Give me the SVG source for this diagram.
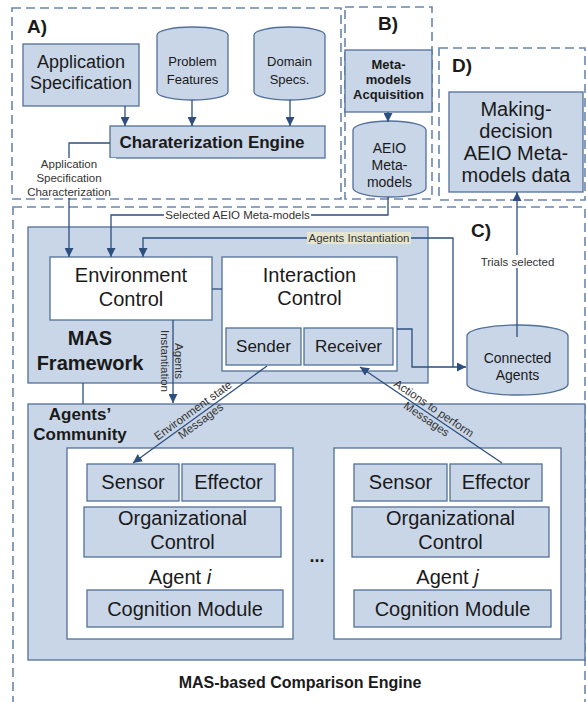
<svg xmlns="http://www.w3.org/2000/svg" width="586" height="702" viewBox="0 0 586 702">
<style>
.region{fill:none;stroke:#6a86ad;stroke-width:1.6;stroke-dasharray:9,5}
.box{fill:#c9d6e8;stroke:#52709a;stroke-width:1.3}
.wbox{fill:#ffffff;stroke:#52709a;stroke-width:1.3}
.t{font-family:"Liberation Sans",Arial,sans-serif;fill:#1a1a1a;text-anchor:middle}
.b{font-weight:bold}
.lbl{font-family:"Liberation Sans",Arial,sans-serif;fill:#333333;font-size:11.5px;text-anchor:middle}
.ln{fill:none;stroke:#2d4f7f;stroke-width:1.3}
.ar{marker-end:url(#arr)}
</style>
<defs>
<marker id="arr" viewBox="0 0 10 10" refX="10" refY="5" markerWidth="9" markerHeight="9" markerUnits="userSpaceOnUse" orient="auto">
<path d="M0,0 L10,5 L0,10 z" fill="#2d4f7f"/>
</marker>
</defs>
<rect width="586" height="702" fill="#ffffff"/>

<g id="regions">
<rect class="region" x="12" y="8" width="329" height="191"/>
<rect class="region" x="345" y="7" width="87" height="192"/>
<rect class="region" x="439" y="48" width="146" height="152"/>
<rect class="region" x="13" y="207" width="572" height="510"/>
<text class="t b" x="37" y="33" font-size="19">A)</text>
<text class="t b" x="388" y="30" font-size="19">B)</text>
<text class="t b" x="462" y="72" font-size="19">D)</text>
<text class="t b" x="481" y="237" font-size="19">C)</text>
</g>

<g id="app-spec">
<rect class="box" x="23" y="44" width="116" height="62"/>
<text class="t" x="81" y="68" font-size="18">Application</text>
<text class="t" x="81" y="89" font-size="18">Specification</text>
</g>

<g id="problem-features">
<path class="box" d="M157,35 A35.5,8 0 0 1 228,35 V92 A35.5,8 0 0 1 157,92 Z"/>
<text class="t" x="192.5" y="66" font-size="13">Problem</text>
<text class="t" x="192.5" y="84" font-size="13">Features</text>
</g>

<g id="domain-specs">
<path class="box" d="M254,35 A35.5,8 0 0 1 325,35 V92 A35.5,8 0 0 1 254,92 Z"/>
<text class="t" x="289.5" y="66" font-size="13">Domain</text>
<text class="t" x="289.5" y="84" font-size="13">Specs.</text>
</g>

<g id="char-engine">
<rect class="box" x="110" y="126" width="215" height="32"/>
<text class="t b" x="212" y="148" font-size="17">Charaterization Engine</text>
</g>

<g id="meta-acq">
<rect class="box" x="345" y="50" width="87" height="62"/>
<text class="t b" x="388.5" y="69" font-size="13">Meta-</text>
<text class="t b" x="388.5" y="84" font-size="13">models</text>
<text class="t b" x="388.5" y="99" font-size="13">Acquisition</text>
</g>

<g id="aeio-metamodels">
<path class="box" d="M353,130 A36.5,9 0 0 1 426,130 V188 A36.5,9 0 0 1 353,188 Z"/>
<text class="t" x="389.5" y="153" font-size="14">AEIO</text>
<text class="t" x="389.5" y="170" font-size="14">Meta-</text>
<text class="t" x="389.5" y="187" font-size="14">models</text>
</g>

<g id="making-decision">
<rect class="box" x="449" y="92" width="134" height="100"/>
<text class="t" x="516" y="116" font-size="20">Making-</text>
<text class="t" x="516" y="138" font-size="20">decision</text>
<text class="t" x="516" y="160" font-size="20">AEIO Meta-</text>
<text class="t" x="516" y="182" font-size="20">models data</text>
</g>

<g id="mas-framework">
<rect class="box" x="28" y="227" width="400" height="156"/>
<text class="t b" x="90" y="345" font-size="20">MAS</text>
<text class="t b" x="90" y="370" font-size="20">Framework</text>
</g>

<g id="environment-control">
<rect class="wbox" x="50" y="257" width="162" height="63"/>
<text class="t" x="131" y="282" font-size="20">Environment</text>
<text class="t" x="131" y="306" font-size="20">Control</text>
</g>

<g id="interaction-control">
<rect class="wbox" x="222" y="257" width="175" height="114"/>
<text class="t" x="309.5" y="282" font-size="20">Interaction</text>
<text class="t" x="309.5" y="305" font-size="20">Control</text>
</g>

<g id="sender">
<rect class="box" x="226" y="328" width="75" height="37"/>
<text class="t" x="263.5" y="352" font-size="17">Sender</text>
</g>

<g id="receiver">
<rect class="box" x="304" y="328" width="89" height="37"/>
<text class="t" x="348.5" y="352" font-size="17">Receiver</text>
</g>

<g id="connected-agents">
<path class="box" d="M467,336 A50.5,11 0 0 1 568,336 V384 A50.5,11 0 0 1 467,384 Z"/>
<text class="t" x="517.5" y="363" font-size="14">Connected</text>
<text class="t" x="517.5" y="380" font-size="14">Agents</text>
</g>

<g id="agents-community">
<rect class="box" x="28" y="404" width="557" height="256"/>
<text class="t b" x="80" y="420" font-size="17">Agents’</text>
<text class="t b" x="80" y="440" font-size="17">Community</text>
<text class="t b" x="317" y="562" font-size="18">...</text>
</g>

<g id="agent-i">
<rect class="wbox" x="67" y="448" width="226" height="191"/>
<text class="t" x="180" y="584" font-size="20">Agent <tspan font-style="italic">i</tspan></text>
</g>
<g id="sensor-i">
<rect class="box" x="87" y="464" width="92" height="37"/>
<text class="t" x="133" y="489" font-size="20">Sensor</text>
</g>
<g id="effector-i">
<rect class="box" x="182" y="464" width="93" height="37"/>
<text class="t" x="228.5" y="489" font-size="20">Effector</text>
</g>
<g id="org-control-i">
<rect class="box" x="84" y="507" width="197" height="50"/>
<text class="t" x="182.5" y="525" font-size="20">Organizational</text>
<text class="t" x="182.5" y="549" font-size="20">Control</text>
</g>
<g id="cognition-i">
<rect class="box" x="87" y="590" width="196" height="37"/>
<text class="t" x="185" y="616" font-size="20">Cognition Module</text>
</g>

<g id="agent-j">
<rect class="wbox" x="334" y="448" width="227" height="191"/>
<text class="t" x="447.5" y="584" font-size="20">Agent <tspan font-style="italic">j</tspan></text>
</g>
<g id="sensor-j">
<rect class="box" x="354" y="464" width="93" height="37"/>
<text class="t" x="400.5" y="489" font-size="20">Sensor</text>
</g>
<g id="effector-j">
<rect class="box" x="450" y="464" width="92" height="37"/>
<text class="t" x="496" y="489" font-size="20">Effector</text>
</g>
<g id="org-control-j">
<rect class="box" x="352" y="507" width="197" height="50"/>
<text class="t" x="450.5" y="525" font-size="20">Organizational</text>
<text class="t" x="450.5" y="549" font-size="20">Control</text>
</g>
<g id="cognition-j">
<rect class="box" x="354" y="590" width="197" height="37"/>
<text class="t" x="452.5" y="616" font-size="20">Cognition Module</text>
</g>

<g id="caption">
<text class="t b" x="300" y="688" font-size="16">MAS-based Comparison Engine</text>
</g>

<g id="connectors">
<path class="ln ar" d="M125,106 V126"/>
<path class="ln ar" d="M192,100 V126"/>
<path class="ln ar" d="M290,100 V126"/>
<path class="ln ar" d="M388,112 V122"/>
<path class="ln ar" d="M110,143 H69 V257"/>
<rect x="22" y="158" width="94" height="40" fill="#ffffff"/>
<text class="lbl" x="69" y="168">Application</text>
<text class="lbl" x="69" y="182">Specification</text>
<text class="lbl" x="69" y="196">Characterization</text>
<path class="ln ar" d="M388,197 V215 H111 V257"/>
<rect x="164" y="208" width="147" height="13" fill="#ffffff"/>
<text class="lbl" x="237.5" y="219">Selected AEIO Meta-models</text>
<path class="ln ar" d="M453,367 V238 H143 V257"/>
<rect x="307" y="232" width="104" height="12" fill="#e6e6cf"/>
<text class="lbl" x="359" y="242">Agents Instantiation</text>
<path class="ln ar" d="M397,329 H412 V367 H466"/>
<path class="ln" d="M212,289 H222"/>
<path class="ln ar" d="M173,320 V403"/>
<text class="lbl" transform="translate(172,361) rotate(90)"><tspan x="0" y="-3">Agents</tspan><tspan x="0" y="11">Instantiation</tspan></text>
<path class="ln" d="M83,383 V404"/>
<path class="ln ar" d="M267,366 L133,463"/>
<text class="lbl" transform="translate(197,416) rotate(-35.9)"><tspan x="0" y="-3">Environment state</tspan><tspan x="0" y="10">Messages</tspan></text>
<path class="ln ar" d="M502,463 L360,367"/>
<text class="lbl" transform="translate(430,414) rotate(34.06)"><tspan x="0" y="-3">Actions to perform</tspan><tspan x="0" y="10">Messages</tspan></text>
<path class="ln ar" d="M517,337 V192"/>
<rect x="478" y="255" width="79" height="13" fill="#ffffff"/>
<text class="lbl" x="517.5" y="266">Trials selected</text>
</g>
</svg>
